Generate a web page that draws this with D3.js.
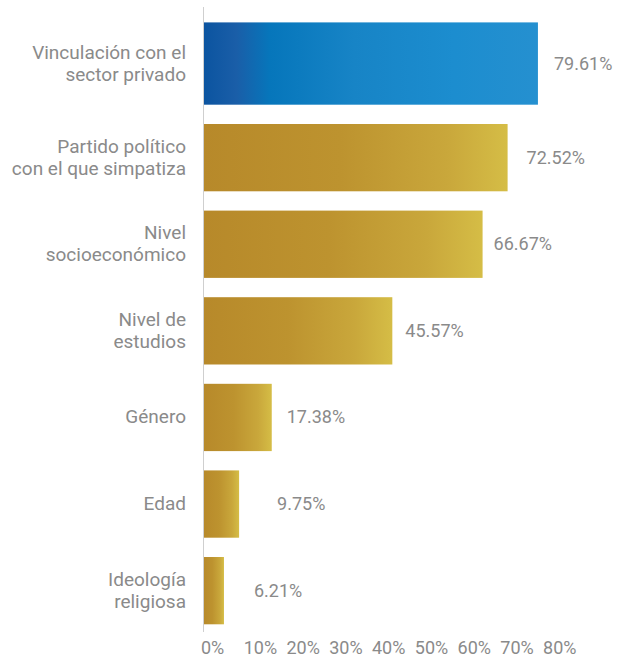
<!DOCTYPE html>
<html>
<head>
<meta charset="utf-8">
<script src="https://cdn.jsdelivr.net/npm/d3@7"></script>
<style>
  html, body { margin: 0; padding: 0; background: #fff; }
  svg { display: block; }
  text { font-family: Roboto, "Noto Sans", sans-serif; fill: #8a8a8a; }
</style>
</head>
<body>
<svg id="chart" width="624" height="658"></svg>
<script>
// Factors, in display order (lines split where the label wraps)
const categories = [
  "Vinculación con el\nsector privado",
  "Partido político\ncon el que simpatiza",
  "Nivel\nsocioeconómico",
  "Nivel de\nestudios",
  "Género",
  "Edad",
  "Ideología\nreligiosa"
];
// Share of respondents (%)
const values = [79.61, 72.52, 66.67, 45.57, 17.38, 9.75, 6.21];
// Axis ticks (%)
const tickValues = [0, 10, 20, 30, 40, 50, 60, 70, 80];

// Layout
const W = 624, H = 658;
const axisX = 203;
const highlightLift = 15;               // the first bar is drawn taller
const labelGap = [16, 19, 11, 13, 15, 38, 30]; // space between bar end and value label
const fontSize = 18;

const svg = d3.select("#chart");

const x = d3.scaleLinear().domain([0, 80]).range([197.4, 539.6]);
const y = d3.scaleBand()
  .domain(categories)
  .range([37.4, 624.3])
  .paddingInner(0.223)
  .paddingOuter(0);

// Gradients
const defs = svg.append("defs");
const blue = defs.append("linearGradient").attr("id", "gBlue")
  .attr("x1", 0).attr("x2", 1).attr("y1", 0).attr("y2", 0);
[[0, "#0b54a0"], [0.1, "#1a5ea8"], [0.2, "#0676bb"], [0.45, "#1784c6"],
 [0.75, "#1c8dcf"], [1, "#2590d0"]].forEach(([o, c]) =>
  blue.append("stop").attr("offset", o).attr("stop-color", c));

const gold = defs.append("linearGradient").attr("id", "gGold")
  .attr("x1", 0).attr("x2", 1).attr("y1", 0).attr("y2", 0);
[[0, "#b7892a"], [0.45, "#bd932f"], [0.8, "#c9a73b"], [1, "#d5bd46"]].forEach(([o, c]) =>
  gold.append("stop").attr("offset", o).attr("stop-color", c));

const rows = categories.map((c, i) => ({ cat: c, value: values[i], i }));
const barTop = d => y(d.cat) - (d.i === 0 ? highlightLift : 0);
const barBottom = d => y(d.cat) + y.bandwidth();
const barMid = d => (barTop(d) + barBottom(d)) / 2;

// Bars
svg.append("g").selectAll("rect")
  .data(rows)
  .join("rect")
  .attr("x", axisX)
  .attr("y", barTop)
  .attr("width", d => x(d.value) - axisX)
  .attr("height", d => barBottom(d) - barTop(d))
  .attr("fill", d => d.i === 0 ? "url(#gBlue)" : "url(#gGold)");

// Vertical baseline
svg.append("line")
  .attr("x1", axisX + 0.5).attr("x2", axisX + 0.5)
  .attr("y1", 7).attr("y2", 632)
  .attr("stroke", "#cfcfcf").attr("stroke-width", 1);

// Value labels
svg.append("g").selectAll("text")
  .data(rows)
  .join("text")
  .attr("x", d => x(d.value) + labelGap[d.i])
  .attr("y", d => barMid(d) + 6)
  .attr("font-size", fontSize)
  .text(d => d.value.toFixed(2) + "%");

// Category labels
const catG = svg.append("g").selectAll("text")
  .data(rows)
  .join("text")
  .attr("text-anchor", "end")
  .attr("font-size", fontSize + 1)
  .attr("y", d => barMid(d) + 6);
catG.each(function (d) {
  const lines = d.cat.split("\n");
  const t = d3.select(this);
  lines.forEach((ln, k) => {
    t.append("tspan")
      .attr("x", 186)
      .attr("y", barMid(d) + 6 + (k - (lines.length - 1) / 2) * 22)
      .text(ln);
  });
});

// Bottom axis: tick labels only
const axis = d3.axisBottom(x)
  .tickValues(tickValues)
  .tickFormat(d => d + "%")
  .tickSize(0);
const axG = svg.append("g").attr("transform", "translate(0,654)").call(axis);
axG.select(".domain").remove();
axG.selectAll("text")
  .attr("y", 0).attr("dy", 0)
  .attr("dx", 3)
  .attr("text-anchor", "start")
  .attr("font-size", fontSize)
  .attr("font-family", null)
  .attr("fill", null);
axG.attr("font-family", null).attr("font-size", null);
</script>
</body>
</html>
